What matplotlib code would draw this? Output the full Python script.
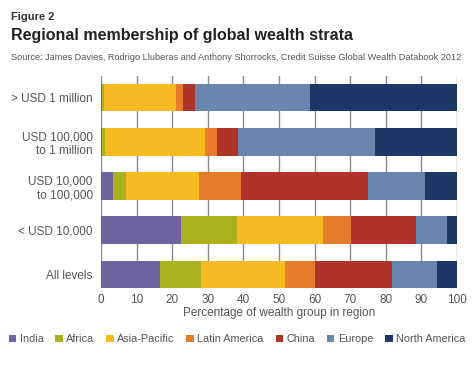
import numpy as np
import matplotlib.pyplot as plt

# wealth strata (top to bottom)
strata = ['> USD 1 million', 'USD 100,000\nto 1 million', 'USD 10,000\nto 100,000',
          '< USD 10,000', 'All levels']
regions = ['India', 'Africa', 'Asia-Pacific', 'Latin America', 'China', 'Europe', 'North America']
colors = ['#6F63A0', '#A9B11F', '#F8BA22', '#E57B2B', '#AE3329', '#6A86AE', '#1B3766']

india = [0.4, 0.4, 3.4, 22.4, 16.5]
africa = [0.4, 0.6, 3.5, 15.7, 11.6]
asia_pacific = [20.2, 28.1, 20.6, 24.3, 23.7]
latin_america = [2.0, 3.5, 11.7, 7.9, 8.4]
china = [3.4, 6.0, 35.8, 18.3, 21.5]
europe = [32.3, 38.3, 16.1, 8.6, 12.6]
north_america = [41.3, 23.1, 8.9, 2.8, 5.7]

series = [india, africa, asia_pacific, latin_america, china, europe, north_america]

plt.rcParams['font.family'] = ['Liberation Sans', 'DejaVu Sans']

fig = plt.figure(figsize=(4.74, 3.69), dpi=100)
ax = fig.add_axes([0.2131, 0.2195, 0.751, 0.5745])

y = np.arange(len(strata))
left = np.zeros(len(strata))
for name, vals, c in zip(regions, series, colors):
    ax.barh(y, vals, left=left, height=0.62, color=c, label=name, zorder=2)
    left += np.array(vals)

ax.set_xlim(0, 100)
ax.set_ylim(4.31, -0.49)
ax.set_xticks(range(0, 101, 10))
ax.set_yticks(y)
ax.set_yticklabels(strata, fontsize=8.5, color='#555555', ha='right')
ax.tick_params(axis='x', labelsize=8.5, labelcolor='#555555', length=0, pad=4)
ax.tick_params(axis='y', length=0, pad=6)
ax.xaxis.grid(True, color='#8a8a8a', linewidth=1, zorder=0)
ax.set_axisbelow(True)
for s in ax.spines.values():
    s.set_visible(False)
ax.set_xlabel('Percentage of wealth group in region', fontsize=8.5, color='#555555', labelpad=1)

fig.text(0.023, 0.955, 'Figure 2', fontsize=8, fontweight='bold', color='#333333', va='center')
fig.text(0.023, 0.905, 'Regional membership of global wealth strata', fontsize=11.5,
         fontweight='bold', color='#222222', va='center')
fig.text(0.023, 0.845, 'Source: James Davies, Rodrigo Lluberas and Anthony Shorrocks, '
         'Credit Suisse Global Wealth Databook 2012', fontsize=6.6, color='#555555', va='center')

handles, labels = ax.get_legend_handles_labels()
fig.legend(handles, labels, loc='center', bbox_to_anchor=(0.5, 0.081), ncol=7, frameon=False,
           fontsize=7.8, handlelength=0.7, handleheight=0.7, handletextpad=0.3,
           columnspacing=1.1, labelcolor='#555555')

fig.savefig('out.png', dpi=100)
